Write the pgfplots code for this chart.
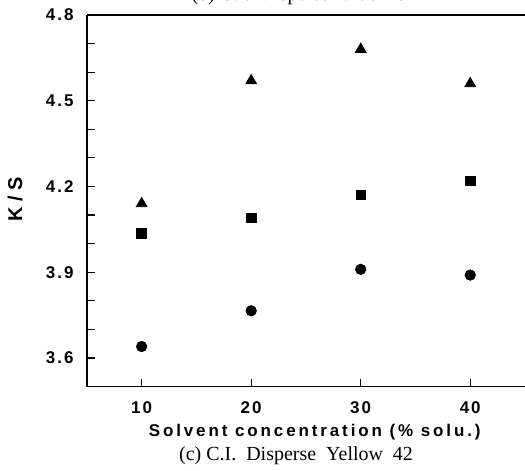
\documentclass[border=0pt]{standalone}
\usepackage{fontspec}
\setmainfont{Liberation Serif}
\newfontfamily\labfont{Liberation Sans}[LetterSpace=17]
\newfontfamily\tickfont{Liberation Sans}[LetterSpace=12]
\newfontfamily\plainsans{Liberation Sans}
\usepackage{pgfplots}
\pgfplotsset{compat=1.18}
\begin{document}
\begin{tikzpicture}
\begin{axis}[
  width=219.3pt, height=186pt, scale only axis,
  xmin=5, xmax=45, ymin=3.5, ymax=4.8,
  axis lines*=left,
  clip=false,
  axis line style={line width=0.8pt, black},
  xtick={10,20,30,40},
  ytick={3.6,3.9,4.2,4.5,4.8},
  minor ytick={3.7,3.8,4.0,4.1,4.3,4.4,4.6,4.7},
  tick align=inside,
  major tick length=4pt, minor tick length=4pt,
  every tick/.style={line width=0.6pt, black},
  /pgf/number format/assume math mode=true,
  yticklabel style={font=\tickfont\bfseries\fontsize{8.5}{10}\selectfont, inner sep=0pt, xshift=-6.5pt},
  xticklabel style={font=\tickfont\bfseries\fontsize{8.5}{10}\selectfont, inner sep=0pt, yshift=-7.5pt},
  yticklabel={\pgfmathprintnumber[fixed,precision=1,fixed zerofill]{\tick}},
  xticklabel={\pgfmathprintnumber{\tick}},
]
\addplot[only marks, mark=triangle*, mark size=3.1pt, black] coordinates {(10,4.14) (20,4.57) (30,4.68) (40,4.56)};
\addplot[only marks, mark=square*, mark size=2.4pt, black] coordinates {(10,4.035) (20,4.09) (30,4.17) (40,4.22)};
\addplot[only marks, mark=*, mark size=2.6pt, black] coordinates {(10,3.64) (20,3.765) (30,3.91) (40,3.89)};
\draw[line width=0.8pt] (rel axis cs:0,1) -- (rel axis cs:1,1);
\coordinate (sw) at (rel axis cs:0,0);
\coordinate (ne) at (rel axis cs:1,1);
\node[rotate=90, anchor=center, font=\plainsans\bfseries\fontsize{10}{12}\selectfont] at ([xshift=-36pt]rel axis cs:0,0.505) {K / S};
\node[anchor=base, font=\labfont\bfseries\fontsize{8.5}{10}\selectfont] at ([yshift=-25pt]rel axis cs:0.52,0) {Solvent concentration (\% solu.)};
\node[anchor=base, font=\fontsize{10}{12}\selectfont] at ([yshift=-37pt]rel axis cs:0.4775,0) {(c) C.I.\ \ Disperse\ \ Yellow\ \ 42};
\node[anchor=base, font=\fontsize{10}{12}\selectfont] at ([yshift=7.5pt]rel axis cs:0.4855,1) {(b) C.I.\ \ Disperse\ \ Blue\ \ 79};
\end{axis}
\pgfresetboundingbox
\path[use as bounding box] ([shift={(-43.5pt,-42pt)}]sw) rectangle ([shift={(0pt,7.5pt)}]ne);
\end{tikzpicture}
\end{document}
